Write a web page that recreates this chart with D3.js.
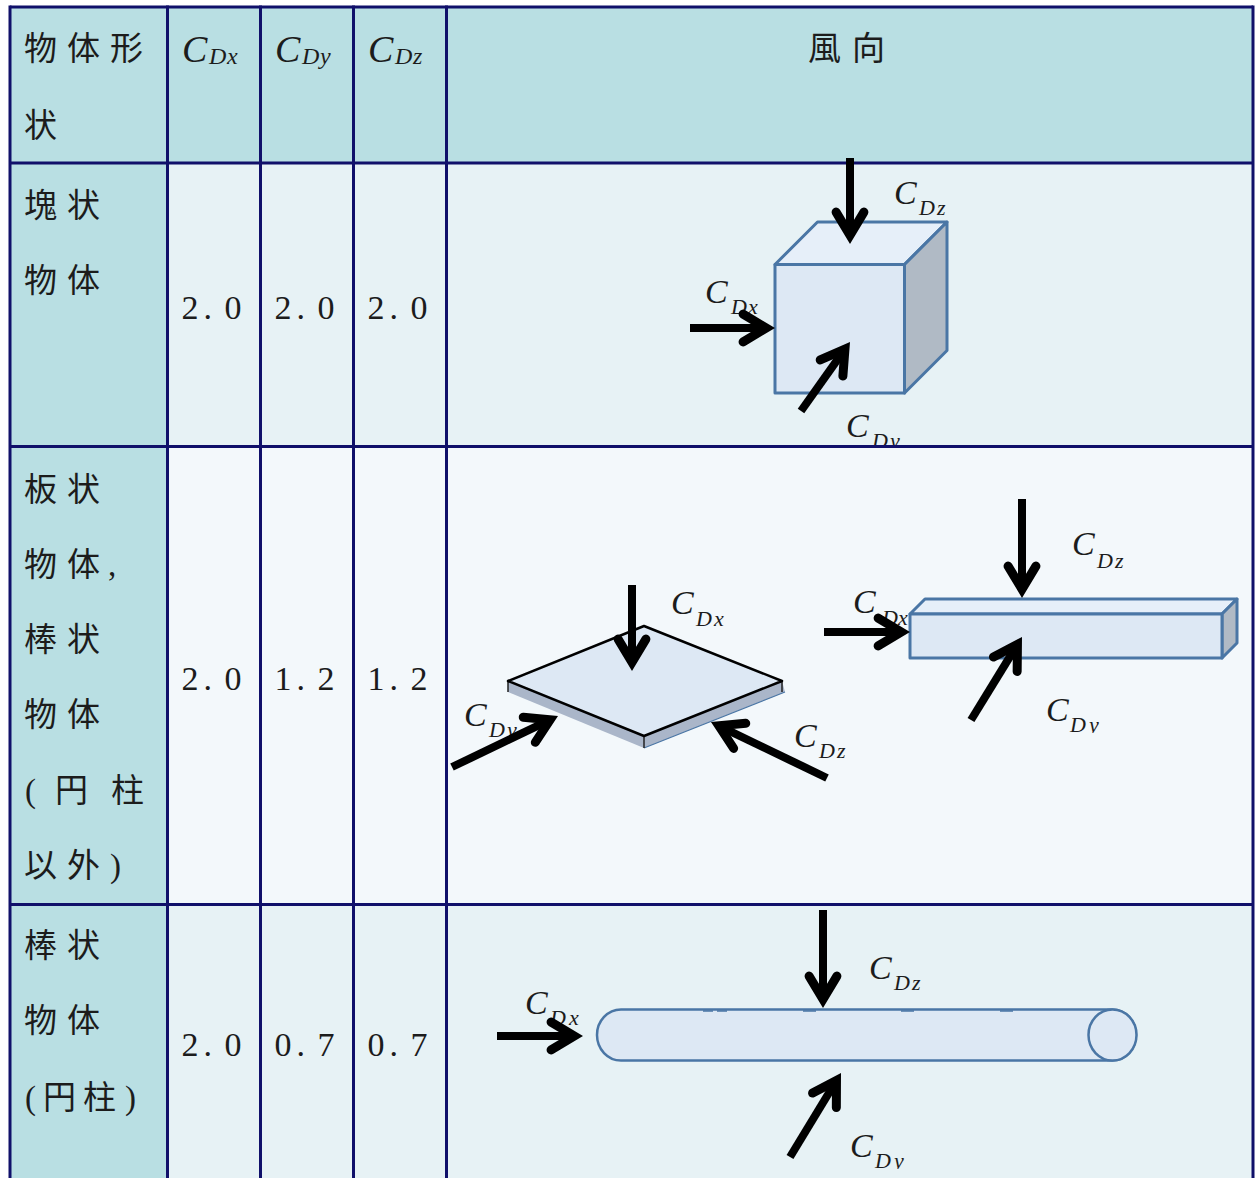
<!DOCTYPE html>
<html>
<head>
<meta charset="utf-8">
<script src="https://cdn.jsdelivr.net/npm/d3@7"></script>
<style>
  html, body { margin: 0; background: #fff; }
  svg { display: block; }
  .cjk { font-family: "Liberation Serif", "Noto Sans CJK TC", serif; font-size: 33px; fill: #1c1c1c; }
  .num { font-family: "Liberation Serif", serif; font-size: 34px; fill: #1c1c1c; }
  .sym { font-family: "Liberation Serif", serif; font-style: italic; fill: #1c1c1c; }
</style>
</head>
<body>
<script>
const width = 1258;
const height = 1178;

const rows = ['header', 'block', 'plate', 'rod'];
const columns = ['shape', 'x', 'y', 'z', 'direction'];
const coeffColumns = ['x', 'y', 'z'];
const coeffRows = ['block', 'plate', 'rod'];
const valuesX = [2.0, 2.0, 2.0];
const valuesY = [2.0, 1.2, 0.7];
const valuesZ = [2.0, 1.2, 0.7];
const shapeLabels = [
  ['物体形', '状'],
  ['塊状', '物体'],
  ['板状', '物体,', '棒状', '物体', '(円柱', '以外)'],
  ['棒状', '物体', '(円柱)']
];
const directionTitle = '風向';

// layout
const rowEdges = [7, 163, 446.5, 904.5, 1190];
const colEdges = [10, 167.5, 260.5, 353.5, 446.5, 1253];
const rowFill = d3.scaleOrdinal().domain(rows).range(['#b9dfe3', '#e7f2f5', '#f3f8fb', '#e7f2f5']);
const colX = d3.scaleOrdinal().domain(columns).range(colEdges);
const valueBaseline = d3.scaleOrdinal().domain(coeffRows).range([319, 690, 1056]);
const shapeBaselines = [[60, 137], [217, 292], [501, 576, 651, 726, 802, 877], [957, 1032, 1109]];
const glyphX = {
  '物体,': [24, 67, 108],
  '(円柱': [25, 55, 111],
  '以外)': [24, 67, 110],
  '(円柱)': [25, 43, 83, 125]
};
const lineColor = '#10106a';
const edgeColor = '#4a76a5';
const faceFront = '#dde8f4';
const faceTop = '#e6eff9';
const faceSide = '#b0bac5';

const svg = d3.select('body').append('svg')
  .attr('width', width).attr('height', height);
const defs = svg.append('defs');

// cell backgrounds
rows.forEach(function(row, i) {
  svg.append('rect')
    .attr('x', colEdges[0]).attr('y', rowEdges[i])
    .attr('width', colEdges[5] - colEdges[0]).attr('height', rowEdges[i + 1] - rowEdges[i])
    .attr('fill', rowFill(row));
  svg.append('rect')
    .attr('x', colEdges[0]).attr('y', rowEdges[i])
    .attr('width', colEdges[1] - colEdges[0]).attr('height', rowEdges[i + 1] - rowEdges[i])
    .attr('fill', rowFill('header'));
});

// grid lines
colEdges.forEach(function(x) {
  svg.append('line').attr('x1', x).attr('x2', x).attr('y1', rowEdges[0] - 1.5).attr('y2', height)
    .attr('stroke', lineColor).attr('stroke-width', 3);
});
rowEdges.slice(0, 4).forEach(function(y) {
  svg.append('line').attr('x1', colEdges[0]).attr('x2', colEdges[5]).attr('y1', y).attr('y2', y)
    .attr('stroke', lineColor).attr('stroke-width', 3);
});

// first column text
shapeLabels.forEach(function(lines, r) {
  lines.forEach(function(line, l) {
    const xs = glyphX[line] || Array.from(line, (c, i) => 24 + i * 43);
    svg.append('text').attr('class', 'cjk')
      .attr('x', xs.join(' ')).attr('y', shapeBaselines[r][l]).text(line);
  });
});
svg.append('text').attr('class', 'cjk')
  .attr('x', '808 852').attr('y', 60).text(directionTitle);

// C_D symbol; clipY cuts the subscript like the pasted figure does
let clipCount = 0;
function symbol(cx, cy, subX, subY, letter, letterX, clipY, sizes) {
  const s = sizes || [34, 22];
  const g = svg.append('g');
  g.append('text').attr('class', 'sym').attr('font-size', s[0])
    .attr('x', cx).attr('y', cy).text('C');
  const sub = g.append('text').attr('class', 'sym').attr('font-size', s[1])
    .attr('x', subX + ' ' + letterX).attr('y', subY).text('D' + letter);
  if (clipY) {
    const id = 'cut' + (clipCount++);
    defs.append('clipPath').attr('id', id).append('rect')
      .attr('x', subX - 5).attr('y', clipY - 40).attr('width', 60).attr('height', 40);
    sub.attr('clip-path', 'url(#' + id + ')');
  }
}

// header symbols
const headSizes = [38, 24];
symbol(182, 62, 209, 64, 'x', 227, null, headSizes);
symbol(275, 62, 302, 64, 'y', 320, null, headSizes);
symbol(368, 62, 395, 64, 'z', 413, null, headSizes);

// coefficient values
const format = d3.format('.1f');
[valuesX, valuesY, valuesZ].forEach(function(values, c) {
  const left = colX(coeffColumns[c]) + 14;
  values.forEach(function(v, r) {
    svg.append('text').attr('class', 'num')
      .attr('x', [left, left + 22, left + 43].join(' '))
      .attr('y', valueBaseline(coeffRows[r])).text(format(v));
  });
});

function poly(points, fill, stroke, sw) {
  svg.append('path')
    .attr('d', d3.line()(points) + 'Z')
    .attr('fill', fill).attr('stroke', stroke || 'none').attr('stroke-width', sw || 0)
    .attr('stroke-linejoin', 'round');
}

// box: front face plus top and side at a 45 degree offset
function box(x0, x1, y0, y1, off) {
  poly([[x0, y0], [x0 + off, y0 - off], [x1 + off, y0 - off], [x1, y0]], faceTop, edgeColor, 3);
  poly([[x1, y0], [x1 + off, y0 - off], [x1 + off, y1 - off], [x1, y1]], faceSide, edgeColor, 3);
  poly([[x0, y0], [x1, y0], [x1, y1], [x0, y1]], faceFront, edgeColor, 3);
}

// block
box(775, 904.5, 264.5, 393, 42.5);
symbol(894, 204, 919, 215, 'z', 937);
symbol(705, 303, 731, 314, 'x', 748);
symbol(846, 437, 872, 448, 'y', 890, 445);

// plate
poly([[508, 681], [644, 736], [644, 748], [508, 692]], '#aab6c9');
poly([[644, 736], [782, 681], [785, 692], [644, 748]], '#aab6c9');
svg.append('path').attr('d', d3.line()([[644, 748], [785, 692]]))
  .attr('stroke', edgeColor).attr('stroke-width', 1.2).attr('fill', 'none');
svg.append('path')
  .attr('d', 'M508,681V692M644,736V748M782,681V692')
  .attr('stroke', '#222').attr('stroke-width', 1.5);
poly([[508, 681], [644, 626], [782, 681], [644, 736]], faceFront, '#000', 2.5);
symbol(671, 614, 696, 626, 'x', 714);
symbol(464, 726, 489, 737, 'y', 507, 738);
symbol(794, 747, 819, 758, 'z', 837);

// flat bar
box(910, 1222, 614, 658, 15);
symbol(1072, 555, 1097, 568, 'z', 1115);
symbol(853, 613, 882, 625, 'x', 898);
symbol(1046, 721, 1070, 732, 'y', 1089, 733);

// cylinder
svg.append('rect')
  .attr('x', 597).attr('y', 1009.5).attr('width', 539).attr('height', 51)
  .attr('rx', 24).attr('ry', 25.5)
  .attr('fill', faceFront).attr('stroke', edgeColor).attr('stroke-width', 2.5);
svg.append('ellipse')
  .attr('cx', 1112.5).attr('cy', 1035).attr('rx', 24).attr('ry', 25.5)
  .attr('fill', faceFront).attr('stroke', edgeColor).attr('stroke-width', 2.5);
svg.append('path')
  .attr('d', 'M703,1011H713M717,1011H727M803,1011H816M901,1011H914M1000,1011H1013')
  .attr('stroke', edgeColor).attr('stroke-width', 1.5);
symbol(869, 979, 894, 990, 'z', 912);
symbol(525, 1014, 550, 1025, 'x', 569);
symbol(850, 1157, 875, 1168, 'y', 894, 1169);

// arrows: tail then tip
const arrows = [
  [[850, 158], [850, 244]], [[690, 328], [775, 328]], [[801, 411], [850, 342]],
  [[632, 585], [632, 671]], [[452, 767], [558, 716]], [[827, 778], [711, 722]],
  [[1022, 499], [1022, 598]], [[824, 632], [910, 632]], [[971, 720], [1022, 637]],
  [[823, 910], [823, 1008]], [[497, 1036], [583, 1036]], [[790, 1157], [841, 1073]]
];
const wingLength = 27;
const wingAngle = 31 * Math.PI / 180;
const shaftWidth = 8;
const wingWidth = 9;
arrows.forEach(function(a) {
  const tail = a[0];
  const tip = a[1];
  const angle = Math.atan2(tail[1] - tip[1], tail[0] - tip[0]);
  const inset = wingWidth / 2 / Math.sin(wingAngle);
  const apex = [tip[0] + inset * Math.cos(angle), tip[1] + inset * Math.sin(angle)];
  const wing = function(sign) {
    const t = angle + sign * wingAngle;
    return [apex[0] + wingLength * Math.cos(t), apex[1] + wingLength * Math.sin(t)];
  };
  svg.append('path').attr('d', d3.line()([tail, apex]))
    .attr('stroke', '#000').attr('stroke-width', shaftWidth).attr('fill', 'none');
  svg.append('path').attr('d', d3.line()([wing(1), apex, wing(-1)]))
    .attr('stroke', '#000').attr('stroke-width', wingWidth).attr('fill', 'none')
    .attr('stroke-linecap', 'round').attr('stroke-linejoin', 'miter').attr('stroke-miterlimit', 10);
});
</script>
</body>
</html>
